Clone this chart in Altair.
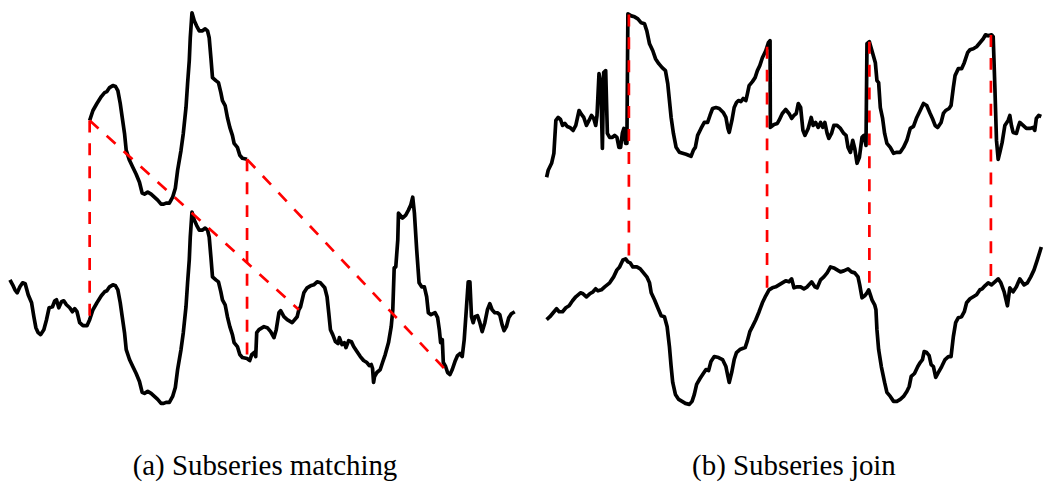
import altair as alt
import numpy as np
import pandas as pd

# ---------------------------------------------------------------------------
# (a) Subseries matching: one long series, sampled at irregular steps
# ---------------------------------------------------------------------------
a_t = [
    10, 12.7, 15, 17.3, 20, 22.7, 25.3, 28.3, 31.7, 34,
    36, 38.3, 40.7, 44, 46.7, 49.3, 52.7, 55, 56.7, 59,
    61.7, 64, 66.7, 70, 72.7, 75, 77.3, 80, 83.3, 87.3,
    90, 93.3, 97.3, 101.7, 105, 107.3, 110, 113.3, 116, 118.3,
    120.7, 122.7, 125, 126.7, 130, 133.3, 136.7, 140, 142.7, 145,
    148.3, 151.7, 155, 158.3, 161.7, 164.3, 166.7, 170, 173.3, 176,
    178.3, 181.7, 184, 186.7, 188.3, 190, 191, 192.7, 195, 197.3,
    200, 203.3, 206, 208.3, 210, 211.7, 213.3, 216.7, 219.3, 221.7,
    223.3, 226, 228.3, 230.7, 233.3, 235, 238.3, 240.7, 243.3, 248,
    250.7, 252.7, 255, 256.7, 257.7, 260, 265, 268.3, 271.7, 275,
    277.3, 280, 281.7, 285, 288.3, 293.3, 298.3, 300, 301.7, 305,
    308.3, 311.7, 315, 318.3, 321.7, 326, 328.3, 330, 331.7, 334,
    336.7, 339.3, 340.7, 343.3, 345.7, 347.3, 350, 352.7, 355, 358.3,
    361.7, 365, 368.3, 370.7, 372.7, 374, 375, 376, 378.3, 381.7,
    384, 386.7, 390, 392.7, 394.3, 395.7, 397.3, 399.3, 400, 401.7,
    404, 407.3, 410, 412.3, 414.3, 416, 418.3, 420.7, 423.3, 426,
    428.3, 430, 432.7, 436.7, 439.3, 441, 442.3, 444, 445, 447.3,
    449.3, 451.7, 454, 456.7, 459.3, 461.7, 464, 466, 468.3, 470,
    471.7, 473.3, 475, 476.7, 479.3, 481.7, 484, 486.7, 489.3, 491.7,
    494, 496.7, 499.3, 501.7, 504, 506, 508.3, 510.7, 513.3, 516.7,
]
a_level = [
    140, 135, 130, 127, 133, 137, 136, 125, 117, 103,
    92, 87, 85, 90, 100, 112, 113, 119, 120, 112,
    118, 119, 115, 112, 108, 111, 108, 97, 94, 94,
    100, 110, 117, 124, 128, 129, 133, 135, 134, 130,
    117, 103, 87, 70, 60, 53, 46, 38, 27, 26,
    28, 26, 23, 20, 16, 16, 17, 17, 23, 32,
    50, 70, 87, 113, 137, 160, 183, 208, 200, 195,
    190, 190, 192, 190, 183, 163, 143, 140, 138, 128,
    120, 115, 103, 93, 85, 77, 73, 65, 62, 61,
    59, 65, 67, 63, 87, 90, 93, 92, 88, 82,
    90, 107, 109, 103, 100, 97, 103, 110, 113, 127,
    132, 134, 135, 138, 137, 132, 123, 107, 90, 85,
    78, 76, 82, 75, 77, 72, 79, 78, 73, 68,
    63, 59, 57, 54, 55, 51, 37, 43, 47, 50,
    57, 65, 77, 93, 110, 152, 153, 180, 207, 205,
    202, 205, 210, 215, 223, 207, 170, 137, 133, 133,
    123, 107, 105, 107, 102, 90, 77, 80, 57, 53,
    47, 45, 50, 58, 64, 66, 63, 80, 113, 138,
    138, 103, 97, 103, 104, 97, 88, 97, 110, 116,
    110, 107, 107, 105, 95, 89, 93, 102, 106, 108,
]

# query window, the window it is matched to, and the vertical lift of the copy
SUB_START, SUB_END = 90, 248
MATCH_START, MATCH_END = 300, 451.7
LIFT = 200

# ---------------------------------------------------------------------------
# (b) Subseries join: joined series (top) over the base series (bottom)
# ---------------------------------------------------------------------------
b_top_t = [
    0.7, 2.3, 5.7, 8, 10, 12.3, 14.7, 16.7, 19, 21.3,
    24, 27.3, 30, 33.3, 35.7, 38, 40.7, 43.3, 45.7, 48,
    50, 51.3, 53.3, 55, 56.7, 58, 60, 61.7, 64, 66.7,
    69, 71.3, 73.3, 75, 76.7, 78.3, 80, 81.3, 82.3, 85.7,
    89, 92.3, 95.7, 99, 101.3, 104, 107.3, 110, 113.3, 116.7,
    120, 122.3, 124, 125.7, 128, 130.7, 134, 137.3, 140.7, 145.7,
    148, 150, 152.3, 155.7, 159, 162.3, 164.7, 167.3, 170.7, 174,
    178, 180.7, 182.7, 184, 186.7, 189, 191.3, 193.3, 195.7, 198,
    200.7, 202.3, 204, 207.3, 210, 212.3, 214.7, 217.3, 220.7, 223.3,
    225, 225.3, 229, 232.3, 234, 237.3, 240.7, 244, 246.7, 249,
    251.3, 253.3, 255.7, 258, 260, 263.3, 266.3, 268.3, 270.7, 273.3,
    275.7, 278, 280, 282.3, 284, 286.7, 289, 292.3, 295.7, 299,
    301.3, 303.3, 305.7, 308, 310, 312.3, 314.7, 317.3, 319.3, 321.3,
    322.3, 324.7, 327.3, 330.7, 332.3, 334, 335.7, 338, 340, 342.3,
    345.7, 349, 352.3, 355.7, 359, 362.3, 365.7, 369, 372.3, 375.7,
    379, 382.3, 385.7, 388, 390.7, 393.3, 396.7, 399, 401.3, 404.7,
    406.7, 409, 410.7, 414, 417.3, 420, 423.3, 425.7, 429, 432.3,
    435.7, 439, 441.3, 444, 447.3, 449, 450.7, 452.3, 454, 455.7,
    458, 460.7, 464, 465.7, 467.3, 469, 472.3, 474, 475.7, 479,
    482.3, 485.7, 489, 490.7, 492.3, 494.7, 497.3,
]
b_top_level = [
    243, 250, 257, 267, 300, 303, 301, 295, 297, 294,
    293, 290, 295, 310, 306, 303, 295, 300, 305, 302,
    295, 305, 347, 338, 272, 348, 350, 287, 283, 283,
    285, 283, 273, 273, 287, 292, 277, 277, 407, 405,
    404, 402, 398, 397, 390, 377, 370, 362, 357, 353,
    350, 337, 320, 303, 287, 273, 268, 267, 266, 264,
    270, 273, 285, 292, 298, 298, 305, 312, 313, 312,
    308, 303, 292, 288, 300, 313, 318, 320, 319, 322,
    320, 327, 335, 339, 343, 350, 355, 363, 370, 378,
    380, 293, 296, 297, 300, 307, 311, 307, 302, 305,
    307, 317, 313, 290, 285, 292, 303, 295, 298, 293,
    298, 293, 298, 287, 282, 287, 295, 295, 292, 287,
    285, 273, 268, 280, 272, 257, 263, 283, 285, 275,
    377, 379, 370, 358, 340, 338, 313, 302, 287, 277,
    273, 267, 268, 268, 273, 280, 292, 294, 303, 310,
    317, 315, 307, 302, 295, 293, 298, 307, 310, 312,
    315, 333, 345, 352, 352, 358, 368, 371, 372, 374,
    378, 382, 386, 385, 386, 384, 333, 280, 261, 268,
    278, 295, 300, 305, 295, 288, 287, 293, 298, 295,
    292, 292, 293, 290, 302, 305, 304,
]
b_base_t = [
    0.7, 4, 7.3, 10.7, 13.3, 16.7, 20, 23.3, 26.7, 30,
    34.7, 37.3, 40.7, 44, 47.3, 50, 52.3, 55.7, 59, 64,
    68, 71.3, 74, 77.3, 80, 82.3, 84.7, 87.3, 91.3, 94.7,
    98, 101.3, 104, 105.7, 109, 112.3, 115.7, 119, 121.7, 124,
    125.7, 127.3, 130, 133.3, 136.7, 140, 144, 146.7, 149, 151.3,
    154.7, 158, 160.7, 163.3, 165.7, 169, 173.3, 177.3, 180.7, 182.3,
    184, 186.7, 189, 191.3, 194.7, 200, 202.3, 204.7, 207.3, 210.7,
    214, 217.3, 220.7, 224, 227.3, 230.7, 234, 237.3, 240.7, 244,
    246.7, 249, 252.3, 255.7, 259, 262.3, 266.7, 270, 272.3, 275.7,
    279, 282.3, 285.7, 289, 292.3, 295.7, 299, 303.3, 306.7, 310,
    313.3, 315, 317.3, 320, 322.3, 324, 325.7, 327.3, 330, 331.3,
    332.3, 334, 336.7, 340, 342.3, 345.7, 349, 352.3, 355.7, 359,
    362.3, 364.7, 366.7, 370, 373.3, 375.7, 378, 379.7, 382.3, 384.7,
    386.7, 389, 391.3, 394, 397.3, 400.7, 404, 406.7, 409, 411.3,
    414, 417.3, 420, 422.3, 425.7, 429, 432.3, 435.7, 438, 440.7,
    444, 447.3, 450.7, 454, 456.7, 460, 463.3, 465.7, 469, 472.3,
    475.7, 480, 483.3, 486.7, 490, 493.3, 497.3,
]
b_base_level = [
    100, 103, 107, 111, 108, 108, 112, 114, 119, 123,
    127, 126, 123, 126, 128, 131, 129, 130, 133, 137,
    143, 150, 153, 160, 161, 158, 157, 153, 153, 151,
    147, 143, 137, 127, 120, 112, 104, 103, 93, 73,
    53, 37, 25, 20, 18, 16, 15, 18, 25, 35,
    41, 46, 50, 49, 58, 63, 62, 60, 53, 45,
    37, 48, 60, 67, 70, 72, 79, 88, 93, 100,
    108, 117, 124, 130, 132, 133, 135, 137, 139, 138,
    141, 132, 133, 133, 131, 133, 138, 133, 132, 140,
    143, 147, 153, 152, 150, 148, 149, 151, 148, 147,
    143, 135, 122, 124, 127, 130, 125, 120, 115, 110,
    90, 70, 53, 37, 27, 23, 18, 18, 20, 23,
    28, 33, 43, 46, 53, 57, 60, 68, 67, 64,
    55, 53, 42, 47, 53, 60, 63, 63, 83, 97,
    102, 103, 108, 117, 121, 123, 125, 130, 131, 134,
    137, 135, 138, 141, 137, 128, 114, 132, 128, 133,
    141, 135, 137, 143, 150, 160, 173,
]

# positions where the top series is joined to the base series
JOIN_T = [83.3, 222, 324.7, 446.7]

# ---------------------------------------------------------------------------
# tables
# ---------------------------------------------------------------------------
series_a = pd.DataFrame({"t": a_t, "level": a_level, "part": "series"})
window = series_a[(series_a.t >= SUB_START) & (series_a.t <= SUB_END)]
copy_a = window.assign(level=window.level + LIFT, part="subseries")
lines_a_df = pd.concat([series_a, copy_a], ignore_index=True)


def level_at(t, ts, vs):
    return float(np.interp(t, ts, vs))


lift_t = copy_a.t.tolist()
lift_v = copy_a.level.tolist()
links_a_df = pd.DataFrame(
    {
        "t": [SUB_START, SUB_END, SUB_START, SUB_END],
        "level": [level_at(SUB_START, lift_t, lift_v), level_at(SUB_END, lift_t, lift_v)] * 2,
        "t2": [SUB_START, SUB_END, MATCH_START, MATCH_END],
        "level2": [
            level_at(SUB_START, a_t, a_level),
            level_at(SUB_END, a_t, a_level),
            level_at(MATCH_START, a_t, a_level),
            level_at(MATCH_END, a_t, a_level),
        ],
    }
)

lines_b_df = pd.concat(
    [
        pd.DataFrame({"t": b_top_t, "level": b_top_level, "part": "top"}),
        pd.DataFrame({"t": b_base_t, "level": b_base_level, "part": "base"}),
    ],
    ignore_index=True,
)
links_b_df = pd.DataFrame(
    {
        "t": JOIN_T,
        "level": [level_at(t, b_top_t, b_top_level) for t in JOIN_T],
        "t2": JOIN_T,
        "level2": [level_at(t, b_base_t, b_base_level) for t in JOIN_T],
    }
)

# ---------------------------------------------------------------------------
# chart
# ---------------------------------------------------------------------------
BLACK = "#000000"
RED = "#ff0000"
HEIGHT = 420
Y = alt.Y("level:Q", scale=alt.Scale(domain=[0, HEIGHT], nice=False, zero=False), axis=None)


def caption(text):
    return alt.TitleParams(
        text,
        orient="bottom",
        anchor="middle",
        font="Liberation Serif",
        fontSize=29,
        fontWeight="normal",
        color=BLACK,
        baseline="top",
        offset=33,
    )


def panel(lines_df, links_df, width, title):
    x = alt.X("t:Q", scale=alt.Scale(domain=[0, width], nice=False, zero=False), axis=None)
    lines = (
        alt.Chart(lines_df)
        .mark_line(color=BLACK, strokeWidth=3.7, strokeJoin="round", strokeCap="butt")
        .encode(x=x, y=Y, detail="part:N")
    )
    links = (
        alt.Chart(links_df)
        .mark_rule(color=RED, strokeWidth=2.7, strokeDash=[12, 11])
        .encode(x=x, y=Y, x2="t2:Q", y2="level2:Q")
    )
    return alt.layer(lines, links).properties(width=width, height=HEIGHT, title=caption(title))


panel_a = panel(lines_a_df, links_a_df, 532, "(a) Subseries matching")
panel_b = panel(lines_b_df, links_b_df, 498, "(b) Subseries join")

chart = (
    alt.hconcat(panel_a, panel_b, spacing=14)
    .properties(padding=0, background="white")
    .configure_view(stroke=None)
)

chart.save("out.html", embed_options={"renderer": "svg", "actions": False})
